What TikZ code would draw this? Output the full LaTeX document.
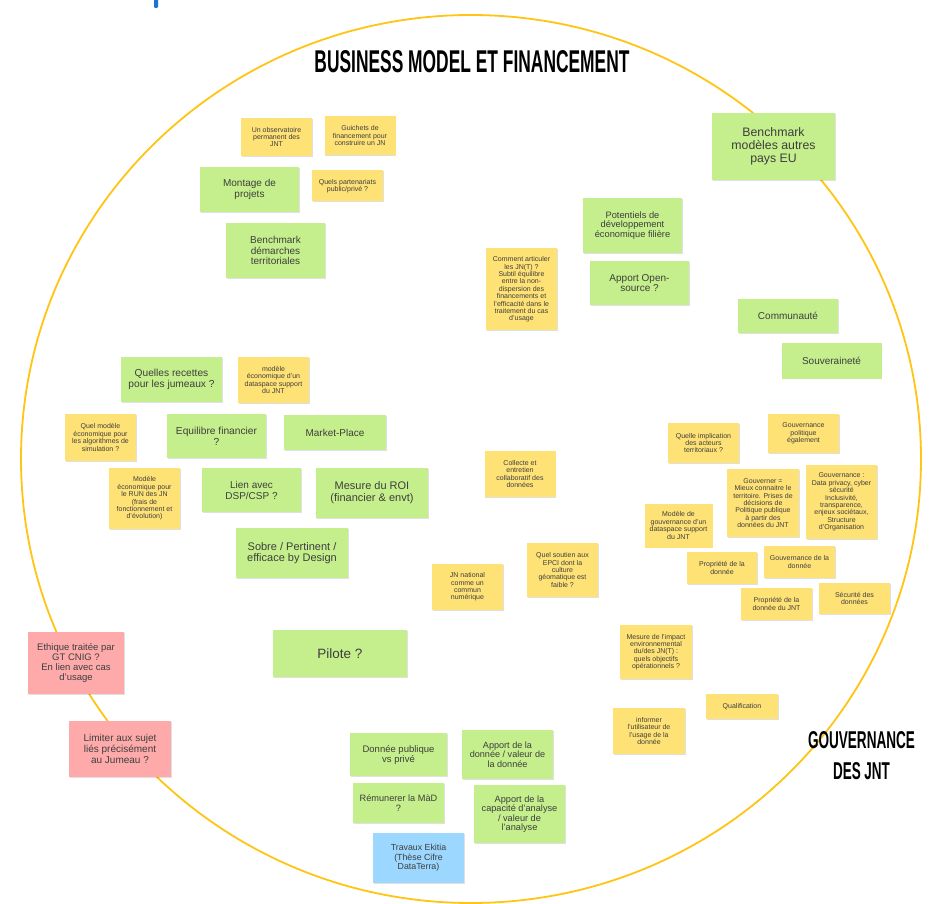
\documentclass[tikz,border=0pt]{standalone}
\usepackage{fontspec}
\setmainfont{Liberation Sans}
\usepackage{graphicx}
\usetikzlibrary{shadows}

\definecolor{ringcol}{RGB}{255,196,20}
\definecolor{yelfill}{RGB}{255,226,118}
\definecolor{grnfill}{RGB}{197,239,140}
\definecolor{pnkfill}{RGB}{255,170,170}
\definecolor{blufill}{RGB}{155,215,255}
\definecolor{txtcol}{RGB}{62,62,62}
\definecolor{markblue}{RGB}{26,117,210}

\begin{document}
\begin{tikzpicture}[x=1pt,y=-1pt,
  fsz/.style 2 args={font=\fontsize{#1}{#2}\selectfont},
  box/.style 2 args={minimum width=#1pt, minimum height=#2pt},
  note/.style={align=center, text=txtcol, inner sep=0pt, outer sep=0pt,
    drop shadow={shadow xshift=0.8pt, shadow yshift=-0.8pt, opacity=0.12, fill=black}},
  yel/.style={note, fill=yelfill, fsz={7}{7.4}},
  grn/.style={note, fill=grnfill, fsz={10}{10.5}},
  pnk/.style={note, fill=pnkfill, fsz={9.5}{10}},
  blu/.style={note, fill=blufill, fsz={8.8}{9.5}},
  heading/.style={inner sep=0pt, text=black}]

  % page
  \fill[white] (0,0) rectangle (930,904);
  \useasboundingbox (0,0) rectangle (930,904);
  \fill[markblue, rounded corners=1pt] (154,-2) rectangle (158,8);

  % the ring
  \draw[ringcol, line width=1.8pt] (471,459) ellipse [x radius=450pt, y radius=444pt];

  % headings
  \node[heading] (bmtitle) at (472,62) {\resizebox{315pt}{22pt}{\bfseries BUSINESS MODEL ET FINANCEMENT}};
  \node[heading] (govtitle) at (861.5,740.5) {\resizebox{107pt}{17pt}{\bfseries GOUVERNANCE}};
  \node[heading] (govtitleb) at (861.5,771.5) {\resizebox{57pt}{17pt}{\bfseries DES JNT}};

  % yellow notes
  \node[yel, box={71}{38}] (observ) at (276.5,137) {Un observatoire\\permanent des\\JNT};
  \node[yel, box={71}{39}] (guichets) at (360,135.5) {Guichets de\\financement pour\\construire un JN};
  \node[yel, box={71}{31}] (partenar) at (347.5,186) {Quels partenariats\\public/privé ?};
  \node[yel, box={71}{82}] (articuler) at (521.5,289.5) {Comment articuler\\les JN(T) ?\\Subtil équilibre\\entre la non-\\dispersion des\\financements et\\l'efficacité dans le\\traitement du cas\\d'usage};
  \node[yel, box={71}{46}] (dataspace) at (273.5,380) {modèle\\économique d'un\\dataspace support\\du JNT};
  \node[yel, box={71}{47}] (algos) at (100.5,437.5) {Quel modèle\\économique pour\\les algorithmes de\\simulation ?};
  \node[yel, box={71}{61}] (run) at (144.5,498.5) {Modèle\\économique pour\\le RUN des JN\\(frais de\\fonctionnement et\\d'évolution)};
  \node[yel, box={71}{46}] (collecte) at (520,474) {Collecte et\\entretien\\collaboratif des\\données};
  \node[yel, box={71}{40}] (implic) at (703.5,443) {Quelle implication\\des acteurs\\territoriaux ?};
  \node[yel, box={71}{39}] (politique) at (803.5,433.5) {Gouvernance\\politique\\également};
  \node[yel, box={72}{68}] (gouverner) at (763,503) {Gouverner =\\Mieux connaitre le\\territoire. Prises de\\décisions de\\Politique publique\\à partir des\\données du JNT};
  \node[yel, box={71}{74}] (privacy) at (841.5,502) {Gouvernance :\\Data privacy, cyber\\sécurité\\Inclusivité,\\transparence,\\enjeux sociétaux,\\Structure\\d'Organisation};
  \node[yel, box={68}{44}] (modgouv) at (678.5,525.5) {Modèle de\\gouvernance d'un\\dataspace support\\du JNT};
  \node[yel, box={70}{32}] (propr) at (722,568) {Propriété de la\\donnée};
  \node[yel, box={71}{32}] (gouvdon) at (799.5,562) {Gouvernance de la\\donnée};
  \node[yel, box={71}{32}] (proprjnt) at (776.5,604) {Propriété de la\\donnée du JNT};
  \node[yel, box={71}{31}] (securite) at (854.5,598.5) {Sécurité des\\données};
  \node[yel, box={71}{46}] (commun) at (467.5,587) {JN national\\comme un\\commun\\numérique};
  \node[yel, box={71}{54}] (epci) at (562.5,570) {Quel soutien aux\\EPCI dont la\\culture\\géomatique est\\faible ?};
  \node[yel, box={72}{54}] (impact) at (656,652) {Mesure de l'impact\\environnemental\\du/des JN(T) :\\quels objectifs\\opérationnels ?};
  \node[yel, box={72}{46}] (informer) at (649,731) {informer\\l'utilisateur de\\l'usage de la\\donnée};
  \node[yel, box={72}{25}] (qualif) at (742,706.5) {Qualification};

  % green notes
  \node[grn, box={99}{45}] (montage) at (249.5,189.5) {Montage de\\projets};
  \node[grn, box={99}{55}] (benchterr) at (275.5,250.5) {Benchmark\\démarches\\territoriales};
  \node[grn, box={123}{67}, fsz={12.3}{13}] (benchEU) at (773.5,146.5) {Benchmark\\modèles autres\\pays EU};
  \node[grn, box={99}{55}, fsz={9.3}{9.6}] (potentiels) at (632.5,225.5) {Potentiels de\\développement\\économique filière};
  \node[grn, box={99}{44}] (opensrc) at (639.5,283) {Apport Open-\\source ?};
  \node[grn, box={100}{34}] (communaute) at (788,316) {Communauté};
  \node[grn, box={100}{35}] (souver) at (831.5,361) {Souveraineté};
  \node[grn, box={101}{45}, fsz={10.2}{11}] (recettes) at (171.5,379.5) {Quelles recettes\\pour les jumeaux ?};
  \node[grn, box={99}{44}, fsz={10.2}{11}] (equilibre) at (216.5,436) {Equilibre financier\\?};
  \node[grn, box={102}{35}] (market) at (335,432.5) {Market-Place};
  \node[grn, box={99}{44}, fsz={10}{11}] (dsp) at (251.5,490) {Lien avec\\DSP/CSP ?};
  \node[grn, box={112}{50}, fsz={11}{11.7}] (roi) at (372,493) {Mesure du ROI\\(financier \& envt)};
  \node[grn, box={112}{50}, fsz={11}{11.5}] (sobre) at (292,553) {Sobre / Pertinent /\\efficace by Design};
  \node[grn, box={134}{47}, fsz={13.5}{14}] (pilote) at (340,653.5) {Pilote ?};
  \node[grn, box={97}{43}, fsz={9.5}{10}] (publique) at (398.5,754.5) {Donnée publique\\vs privé};
  \node[grn, box={91}{49}, fsz={9.1}{9.4}] (valdonnee) at (507.5,754.5) {Apport de la\\donnée / valeur de\\la donnée};
  \node[grn, box={91}{40}, fsz={9.2}{10}] (remun) at (398.5,803) {Rémunerer la MàD\\?};
  \node[grn, box={91}{58}, fsz={9.2}{9.4}] (analyse) at (519.5,814) {Apport de la\\capacité d'analyse\\/ valeur de\\l'analyse};

  % blue and pink notes
  \node[blu, box={91}{50}] (ekitia) at (418.5,858) {Travaux Ekitia\\(Thèse Cifre\\DataTerra)};
  \node[pnk, box={96}{62}] (ethique) at (76,663) {Ethique traitée par\\GT CNIG ?\\En lien avec cas\\d'usage};
  \node[pnk, box={102}{56}, fsz={10}{11}] (limiter) at (120,749) {Limiter aux sujet\\liés précisément\\au Jumeau ?};
\end{tikzpicture}
\end{document}
